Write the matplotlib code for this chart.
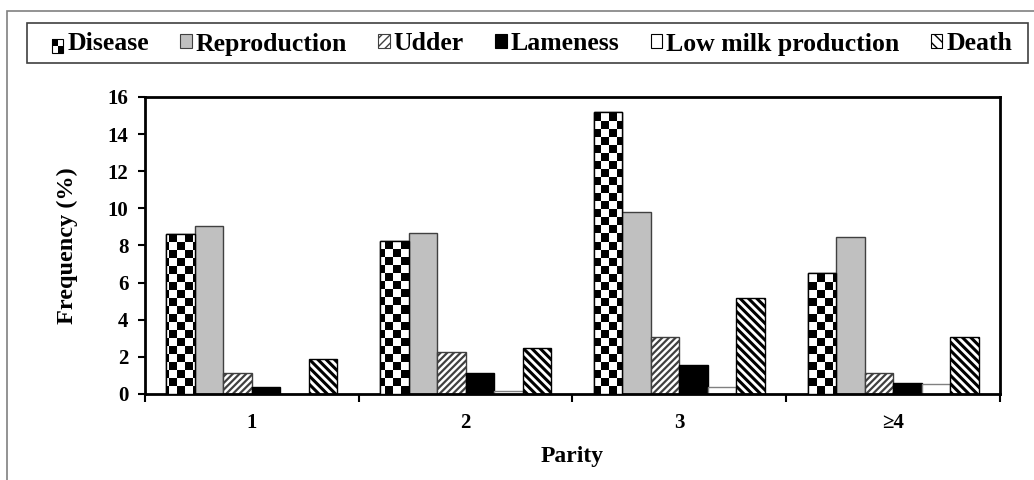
import numpy as np
import matplotlib
matplotlib.use("Agg")
import matplotlib.pyplot as plt
from matplotlib.patches import Rectangle, Patch

plt.rcParams['font.family'] = ['Liberation Serif', 'DejaVu Serif']
plt.rcParams['font.weight'] = 'bold'

parity = ['1', '2', '3', '\u22654']
series = ['Disease', 'Reproduction', 'Udder', 'Lameness', 'Low milk production', 'Death']
disease = [8.6, 8.25, 15.2, 6.5]
reproduction = [9.05, 8.65, 9.8, 8.45]
udder = [1.12, 2.28, 3.05, 1.12]
lameness = [0.4, 1.15, 1.56, 0.59]
low_milk = [0.0, 0.15, 0.36, 0.54]
death = [1.9, 2.5, 5.15, 3.06]

values = [disease, reproduction, udder, lameness, low_milk, death]
faces = ['white', '#c0c0c0', 'white', 'black', 'white', 'white']
edges = ['black', '#404040', '#404040', 'black', '#808080', 'black']
hatches = [None, None, '/////', None, None, '\\\\\\\\']
hatch_lw = [1, 1, 1.6, 1, 1, 2.2]

fig = plt.figure(figsize=(10.34, 4.8), dpi=100)
ax = fig.add_axes([0.1402, 0.1792, 0.8269, 0.6188])

# outer frame of the figure
fig.patches.append(Rectangle((7 / 1034, -0.1), 1.2, (480 - 11) / 480 + 0.1,
                             transform=fig.transFigure, fill=False,
                             edgecolor='#808080', linewidth=1.2))
# legend frame
fig.patches.append(Rectangle((27 / 1034, (480 - 63) / 480), (1028 - 27) / 1034, 40 / 480,
                             transform=fig.transFigure, fill=False,
                             edgecolor='#404040', linewidth=1.2))

x = np.arange(len(parity))
bw = 0.8 / 6
bars = []
for i, vals in enumerate(values):
    plt.rcParams['hatch.linewidth'] = hatch_lw[i]
    b = ax.bar(x - 0.4 + bw * (i + 0.5), vals, bw, color=faces[i], edgecolor=edges[i],
               linewidth=1.0, hatch=hatches[i], zorder=2)
    bars.append(b)

# checkerboard fill for disease bars
ymax = 16
cols, rows = 107, 37
checker = np.indices((rows, cols)).sum(axis=0) % 2
for rect in bars[0]:
    im = ax.imshow(checker, cmap='gray', extent=(-0.5, 3.5, 0, ymax * 0.997), aspect='auto',
                   interpolation='nearest', zorder=3, origin='lower')
    im.set_clip_path(rect)
    ax.add_patch(Rectangle(rect.get_xy(), rect.get_width(), rect.get_height(),
                           fill=False, edgecolor='black', linewidth=1.0, zorder=4))

ax.set_xlim(-0.5, 3.5)
ax.set_ylim(0, ymax)
ax.set_yticks(np.arange(0, 17, 2))
ax.set_xticks(np.arange(-0.5, 3.6, 1))
ax.set_xticklabels([])
ax.set_xticks(x, minor=True)
ax.set_xticklabels(parity, minor=True)
ax.tick_params(axis='x', which='minor', length=0, pad=14, labelsize=15)
ax.tick_params(axis='x', which='major', length=6, width=1.5, direction='out')
ax.tick_params(axis='y', length=5, width=1.5, direction='out', labelsize=15, pad=7)
for s in ax.spines.values():
    s.set_linewidth(2)
ax.set_ylabel('Frequency (%)', fontsize=17.5, fontweight='bold', labelpad=21)
ax.set_xlabel('Parity', fontsize=17, fontweight='bold', labelpad=9)


class CheckerHandler:
    def legend_artist(self, legend, orig_handle, fontsize, handlebox):
        x0, y0 = handlebox.xdescent, handlebox.ydescent
        w, h = handlebox.width, handlebox.height
        for (dx, dy) in [(0, 1), (1, 0)]:
            handlebox.add_artist(Rectangle((x0 + dx * w / 2, y0 + dy * h / 2), w / 2, h / 2,
                                           facecolor='black', edgecolor='none',
                                           transform=handlebox.get_transform()))
        frame = Rectangle((x0, y0), w, h, fill=False, edgecolor='black', linewidth=0.8,
                          transform=handlebox.get_transform())
        handlebox.add_artist(frame)
        return frame


handles = [Patch(facecolor='white', edgecolor='black', label=series[0])]
for i in range(1, 6):
    plt.rcParams['hatch.linewidth'] = 1
    hh = None
    if hatches[i]:
        hh = '////' if '/' in hatches[i] else '\\\\\\'
    handles.append(Patch(facecolor=faces[i], edgecolor=edges[i] if i != 4 else 'black',
                         hatch=hh, linewidth=0.8, label=series[i]))

leg = fig.legend(handles=handles, labels=series, ncol=6, loc='center',
                 bbox_to_anchor=(532 / 1034, (480 - 44) / 480),
                 frameon=False,
                 prop={'family': 'Liberation Serif', 'weight': 'bold', 'size': 18.5},
                 handlelength=0.45, handleheight=0.45, handletextpad=0.15, borderpad=0.2,
                 columnspacing=1.22, handler_map={handles[0]: CheckerHandler()})

fig.savefig('out.png', dpi=100)
